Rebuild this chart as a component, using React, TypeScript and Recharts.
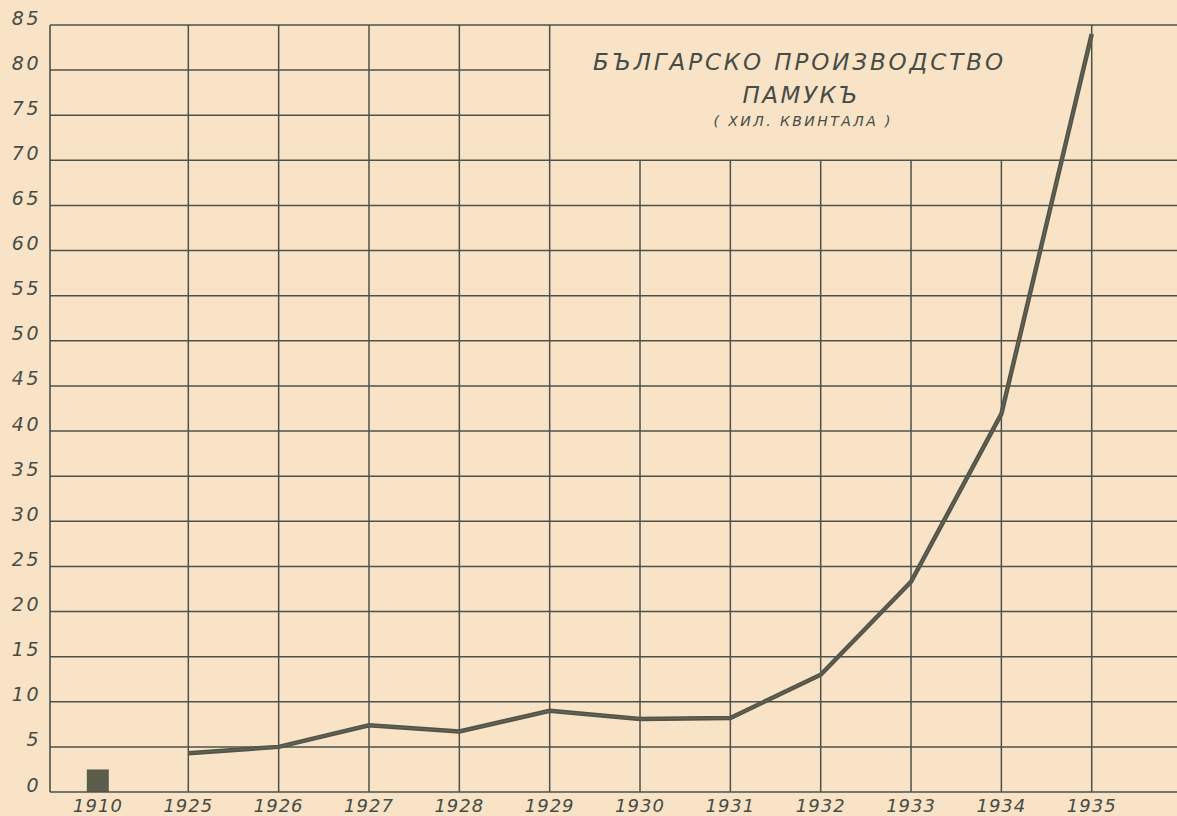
import React from 'react';
import { ComposedChart, Line, Bar, XAxis, YAxis, ReferenceLine } from 'recharts';

const years = ['1910', '1925', '1926', '1927', '1928', '1929', '1930', '1931', '1932', '1933', '1934', '1935'];
const production = [null, 4.3, 5.0, 7.4, 6.7, 9.0, 8.1, 8.2, 13.0, 23.3, 41.9, 84.0];
const production1910 = [2.5, null, null, null, null, null, null, null, null, null, null, null];
const yTicks = [0, 5, 10, 15, 20, 25, 30, 35, 40, 45, 50, 55, 60, 65, 70, 75, 80, 85];
const titleLines = ['БЪЛГАРСКО ПРОИЗВОДСТВО', 'ПАМУКЪ', '( ХИЛ. КВИНТАЛА )'];

// grid layout (which lines are interrupted by the title block)
const titleBlockBottom = 70;
const titleBlockTop = 85;
const titleBlockStartYear = '1929';
const fullHeightYears = ['1925', '1926', '1927', '1928', '1929', '1935'];

const X_MIN = -0.531;
const X_MAX = 11.944;

const BG = '#f8e3c7';
const INK = '#4c524a';
const TEXT = '#474c46';

const data = years.map((y, i) => ({ idx: i, year: y, production: production[i], early: production1910[i] }));

const YTick = (props: any) => {
  const { x, y, payload } = props;
  return (
    <text x={x - 1} y={y - 6} textAnchor="end" dominantBaseline="middle" fill={TEXT}
      style={{ fontFamily: '"DejaVu Sans", sans-serif', fontStyle: 'italic', fontSize: 19, letterSpacing: 2.5 }}>
      {payload.value}
    </text>
  );
};

const XTick = (props: any) => {
  const { x, y, payload } = props;
  return (
    <text x={x} y={y + 7} textAnchor="middle" dominantBaseline="middle" fill={TEXT}
      style={{ fontFamily: '"DejaVu Sans", sans-serif', fontStyle: 'italic', fontSize: 18, letterSpacing: 1 }}>
      {years[payload.value]}
    </text>
  );
};

export default function App() {
  const blockIdx = years.indexOf(titleBlockStartYear);
  return (
    <div style={{ position: 'absolute', left: 0, top: 0, width: 1177, height: 816, background: BG, overflow: 'hidden' }}>
      <ComposedChart width={1177} height={816} data={data} margin={{ top: 25, right: 0, bottom: 0, left: 0 }}>
        <XAxis type="number" dataKey="idx" domain={[X_MIN, X_MAX]} allowDataOverflow
          ticks={years.map((_, i) => i)} interval={0} axisLine={false} tickLine={false} height={24}
          tick={<XTick />} />
        <YAxis type="number" domain={[0, 85]} ticks={yTicks} interval={0} width={50}
          axisLine={{ stroke: INK, strokeWidth: 1.6 }} tickLine={false} tick={<YTick />} />
        {yTicks.filter(v => v !== 75 && v !== 80).map(v => (
          <ReferenceLine key={'h' + v} y={v} stroke={INK} strokeWidth={1.5} />
        ))}
        {yTicks.filter(v => v > titleBlockBottom && v < titleBlockTop).map(v => (
          <ReferenceLine key={'hp' + v} segment={[{ x: X_MIN, y: v }, { x: blockIdx, y: v }]} stroke={INK} strokeWidth={1.5} />
        ))}
        {years.slice(1).map(yr => {
          const i = years.indexOf(yr);
          return fullHeightYears.includes(yr) ? (
            <ReferenceLine key={'v' + yr} x={i} stroke={INK} strokeWidth={1.5} />
          ) : (
            <ReferenceLine key={'v' + yr} segment={[{ x: i, y: 0 }, { x: i, y: titleBlockBottom }]} stroke={INK} strokeWidth={1.5} />
          );
        })}
        <Bar dataKey="early" barSize={22} fill="#5b5c4b" isAnimationActive={false} />
        <Line type="linear" dataKey="production" stroke="#535448" strokeWidth={4.5} dot={false}
          connectNulls={false} isAnimationActive={false} />
        <Line type="linear" dataKey="production" stroke="#7d7d6e" strokeWidth={1} dot={false}
          connectNulls={false} isAnimationActive={false} strokeOpacity={0.5} />
      </ComposedChart>
      <svg width={1177} height={816} style={{ position: 'absolute', left: 0, top: 0, pointerEvents: 'none' }}>
        <text x={798} y={63} textAnchor="middle" dominantBaseline="middle" fill={TEXT} textLength={410} lengthAdjust="spacing"
          style={{ fontFamily: '"DejaVu Sans", sans-serif', fontStyle: 'italic', fontSize: 23 }}>{titleLines[0]}</text>
        <text x={800} y={96} textAnchor="middle" dominantBaseline="middle" fill={TEXT} textLength={115} lengthAdjust="spacing"
          style={{ fontFamily: '"DejaVu Sans", sans-serif', fontStyle: 'italic', fontSize: 23 }}>{titleLines[1]}</text>
        <text x={802} y={122} textAnchor="middle" dominantBaseline="middle" fill={TEXT} textLength={177} lengthAdjust="spacing"
          style={{ fontFamily: '"DejaVu Sans", sans-serif', fontStyle: 'italic', fontSize: 14 }}>{titleLines[2]}</text>
      </svg>
    </div>
  );
}
